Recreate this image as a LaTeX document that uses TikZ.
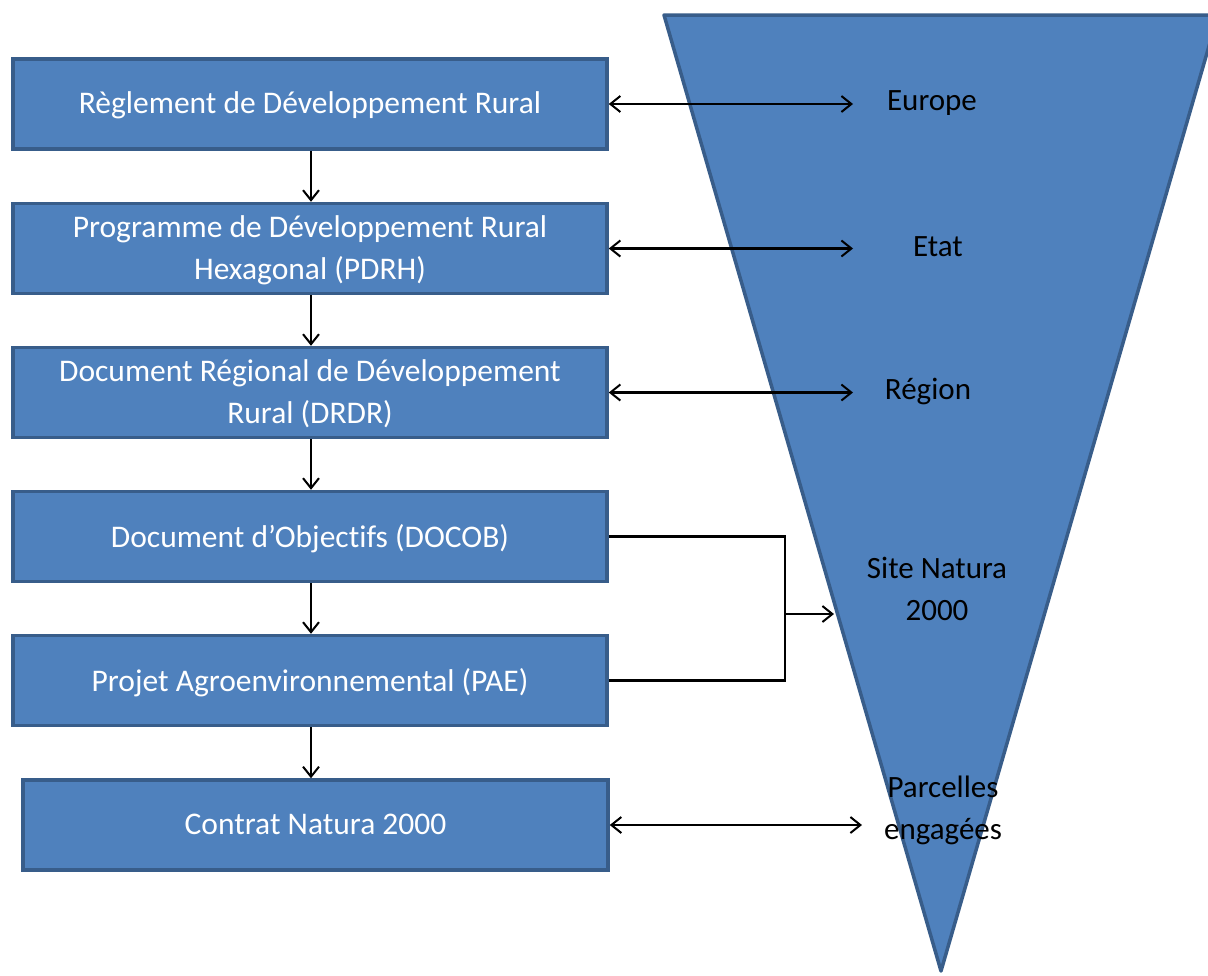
\documentclass[tikz,border=0pt]{standalone}
\usepackage{fontspec}
\setmainfont{Carlito}[Ligatures=NoCommon]
\usetikzlibrary{arrows.meta}
\definecolor{boxfill}{HTML}{4F81BD}
\definecolor{boxline}{HTML}{385D8A}
\tikzset{
  level/.style={rectangle, draw=boxline, fill=boxfill, line width=3.5pt,
    minimum width=594pt, minimum height=90pt, inner sep=0pt,
    text depth=2pt,
    text=white, align=center, font=\fontsize{31.5}{42}\selectfont},
  tier/.style={text=black, align=center, inner sep=0pt,
    font=\fontsize{31}{42}\selectfont},
  flow/.style={line width=2.1pt, -{Straight Barb[length=10pt,width=16pt,line width=2pt]}},
  link/.style={line width=2.1pt,
    {Straight Barb[length=10pt,width=16pt,line width=2pt]}-{Straight Barb[length=10pt,width=16pt,line width=2pt]}},
  joint/.style={line width=2.1pt}
}
\begin{document}
\begin{tikzpicture}[x=1pt,y=-1pt]
  \useasboundingbox (0,0) rectangle (1208,975);
  \fill[white] (0,0) rectangle (1208,975);
  \clip (0,0) rectangle (1208,975);

  % inverted pyramid of territorial levels
  \filldraw[fill=boxfill, draw=boxline, line width=3.5pt, line join=round]
    (664,15) -- (1218,15) -- (941,971) -- cycle;

  % programming documents
  \node[level] (b1) at (310,104) {Règlement de Développement Rural};
  \node[level] (b2) at (310,248.5) {Programme de Développement Rural\\Hexagonal (PDRH)};
  \node[level] (b3) at (310,392.5) {Document Régional de Développement\\Rural (DRDR)};
  \node[level] (b4) at (310,536.5) {Document d’Objectifs (DOCOB)};
  \node[level] (b5) at (310,680.5) {Projet Agroenvironnemental (PAE)};
  \node[level, minimum width=585pt] (b6) at (315.5,825) {Contrat Natura 2000};

  % level names inside the pyramid
  \node[tier] (t1) at (932,103) {Europe};
  \node[tier] (t2) at (938,247) {Etat};
  \node[tier] (t3) at (928,391) {Région};
  \node[tier] (t4) at (937,589) {Site Natura\\2000};
  \node[tier] (t5) at (943,810) {Parcelles\\engagées};

  % arrow end points
  \coordinate (e1) at (853,104);
  \coordinate (e2) at (853,248.5);
  \coordinate (e3) at (853,392.5);
  \coordinate (e6) at (862,825);
  \coordinate (j) at (785,614);
  \coordinate (jt) at (834,614);

  % top-down chain
  \draw[flow] (b1.south -| 311,0) -- (b2.north -| 311,0);
  \draw[flow] (b2.south -| 311,0) -- (b3.north -| 311,0);
  \draw[flow] (b3.south -| 311,0) -- (b4.north -| 311,0);
  \draw[flow] (b4.south -| 311,0) -- (b5.north -| 311,0);
  \draw[flow] (b5.south -| 311,0) -- (b6.north -| 311,0);

  % links to the levels
  \draw[link] (b1.east) -- (e1);
  \draw[link] (b2.east) -- (e2);
  \draw[link] (b3.east) -- (e3);
  \draw[link] (b6.east) -- (e6);
  \draw[joint] (b4.east) -| (j) |- (b5.east);
  \draw[flow] (j) -- (jt);
\end{tikzpicture}
\end{document}
